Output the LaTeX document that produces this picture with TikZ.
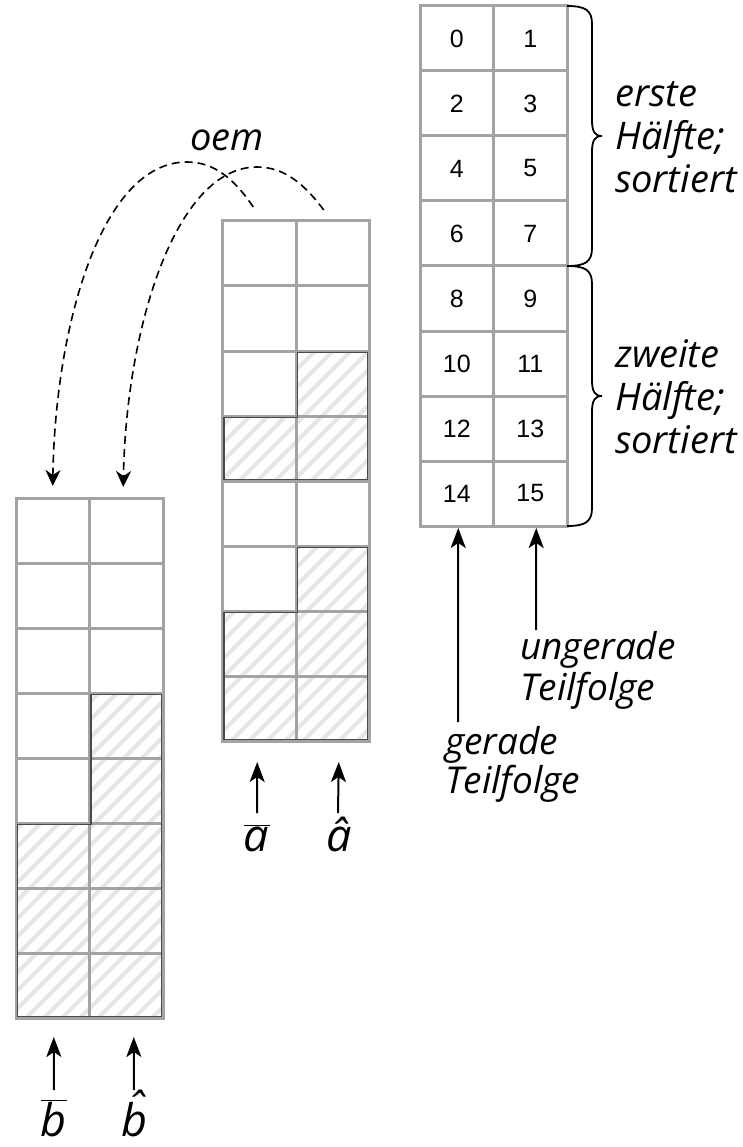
\documentclass[tikz,border=0pt]{standalone}
\usepackage{fontspec}
\setmainfont{Open Sans}
\newfontfamily\numfont{Liberation Sans}
\usetikzlibrary{arrows.meta}
\definecolor{gridgray}{HTML}{A3A3A3}
\definecolor{darkline}{HTML}{4A4A4A}
\definecolor{hatchgray}{HTML}{E6E6E6}
\tikzset{
  cell/.style={draw=gridgray,line width=3pt,minimum width=73.5pt,minimum height=65pt,inner sep=0pt,outer sep=0pt,font=\numfont\fontsize{25}{25}\selectfont},
  hatchline/.style={draw=hatchgray,line width=4pt},
  outline/.style={draw=darkline,line width=1.8pt},
  oemarrow/.style={dash pattern=on 8pt off 5pt,line width=1.6pt,-{Stealth[length=16pt,width=15pt,inset=5pt]}},
  uparrow/.style={line width=2pt,-{Stealth[length=20pt,width=15pt,inset=5pt]}},
  bracepath/.style={line width=1.8pt},
  lbl/.style={font=\itshape\fontsize{38}{43}\selectfont,align=left,inner sep=0pt},
  mlbl/.style={font=\itshape\fontsize{45}{45}\selectfont,inner sep=0pt,anchor=base}
}
\begin{document}
\begin{tikzpicture}[x=1pt,y=1pt]
\useasboundingbox (0,0) rectangle (742,-1147);
% hatching of the shaded regions
\begin{scope}
\clip (296,-351) -- (369,-351) -- (369,-481) -- (222.5,-481) -- (222.5,-416) -- (296,-416) -- cycle
      (296,-546) -- (369,-546) -- (369,-741) -- (222.5,-741) -- (222.5,-611) -- (296,-611) -- cycle
      (89.5,-693) -- (163,-693) -- (163,-1018) -- (16,-1018) -- (16,-823) -- (89.5,-823) -- cycle;
\foreach \k in {-1100,-1082,...,420}{
  \draw[hatchline] (\k,-1100) -- ({\k+1100},0);
}
\end{scope}
% right grid with numbers
\foreach \r in {0,...,7}{\foreach \c in {0,1}{
  \pgfmathtruncatemacro\n{2*\r+\c}
  \node[cell] (R-\r-\c) at ({420+73.5*(\c+0.5)},{-(6+65*(\r+0.5))}) {\n};
}}
% middle grid
\foreach \r in {0,...,7}{\foreach \c in {0,1}{
  \node[cell] (M-\r-\c) at ({222.5+73.5*(\c+0.5)},{-(221+65*(\r+0.5))}) {};
}}
% left grid
\foreach \r in {0,...,7}{\foreach \c in {0,1}{
  \node[cell] (L-\r-\c) at ({16+73.5*(\c+0.5)},{-(498+65*(\r+0.5))}) {};
}}
% dark outlines of hatched regions
\draw[outline] (297.5,-352.5) -- (367.5,-352.5) -- (367.5,-479.5) -- (224,-479.5) -- (224,-417.5) -- (297.5,-417.5) -- cycle;
\draw[outline] (297.5,-547.5) -- (367.5,-547.5) -- (367.5,-739.5) -- (224,-739.5) -- (224,-612.5) -- (297.5,-612.5) -- cycle;
\draw[outline] (91,-694.5) -- (161.5,-694.5) -- (161.5,-1016.5) -- (17.5,-1016.5) -- (17.5,-824.5) -- (91,-824.5) -- cycle;
% braces
\draw[bracepath] (R-0-1.north east) .. controls (585,-6) and (592,-10) .. (592,-24) -- (592,-120) .. controls (592,-132) and (595,-136) .. (602,-136) .. controls (595,-136) and (592,-140) .. (592,-152) -- (592,-248) .. controls (592,-262) and (585,-266) .. (R-3-1.south east);
\draw[bracepath] (R-4-1.north east) .. controls (585,-266) and (592,-270) .. (592,-284) -- (592,-380) .. controls (592,-392) and (595,-396) .. (602,-396) .. controls (595,-396) and (592,-400) .. (592,-412) -- (592,-508) .. controls (592,-522) and (585,-526) .. (R-7-1.south east);
\node[lbl,anchor=west] (first) at (615,-137) {erste\\Hälfte;\\sortiert};
\node[lbl,anchor=west] (second) at (615,-397) {zweite\\Hälfte;\\sortiert};
% arrows below right grid
\coordinate (g0) at (458,-722);
\coordinate (u0) at (536,-630);
\draw[uparrow] (g0) -- ([xshift=1.5pt,yshift=-2pt]R-7-0.south);
\draw[uparrow] (u0) -- ([xshift=6pt,yshift=-2pt]R-7-1.south);
\node[lbl,anchor=west,font=\itshape\fontsize{37}{41}\selectfont] (ung) at (520,-670) {ungerade\\Teilfolge};
\node[lbl,anchor=west,font=\itshape\fontsize{37}{39}\selectfont] (ger) at (445,-764) {gerade\\Teilfolge};
% arrows below middle grid
\coordinate (ma0) at (257,-813);
\coordinate (ma1) at (338,-813);
\draw[uparrow] (ma0) -- ([xshift=-2pt,yshift=-21pt]M-7-0.south);
\draw[uparrow] (ma1) -- ([xshift=6pt,yshift=-21pt]M-7-1.south);
\node[mlbl] (abar) at (257,-851) {$\overline{\mbox{\itshape a\kern1pt}}$};
\node[mlbl] (ahat) at (339,-851) {â};
% arrows below left grid
\coordinate (lb0) at (54,-1090);
\coordinate (lb1) at (134,-1090);
\draw[uparrow] (lb0) -- ([xshift=1pt,yshift=-19pt]L-7-0.south);
\draw[uparrow] (lb1) -- ([xshift=7.5pt,yshift=-19pt]L-7-1.south);
\node[mlbl] (bbar) at (54,-1136) {$\overline{\mbox{\itshape b\kern1pt}}$};
\node[mlbl] (bhat) at (134,-1136) {\ooalign{b\cr\hidewidth\kern5pt\raisebox{0.25em}{ˆ}\hidewidth\cr}};
% oem dashed connectors
\coordinate (s1) at ([xshift=-6pt,yshift=14pt]M-0-0.north);
\coordinate (s2) at ([xshift=-9pt,yshift=11pt]M-0-1.north);
\coordinate (e1) at ([yshift=12pt]L-0-0.north);
\coordinate (e2) at ([xshift=-3pt,yshift=11pt]L-0-1.north);
\draw[oemarrow] (s1) .. controls (235,-180) and (215,-162) .. (187,-162) .. controls (100,-162) and (55,-330) .. (e1);
\draw[oemarrow] (s2) .. controls (305,-185) and (285,-167) .. (257,-167) .. controls (175,-167) and (126,-330) .. (e2);
\node[lbl] (oem) at (227,-140) {oem};
\end{tikzpicture}
\end{document}
